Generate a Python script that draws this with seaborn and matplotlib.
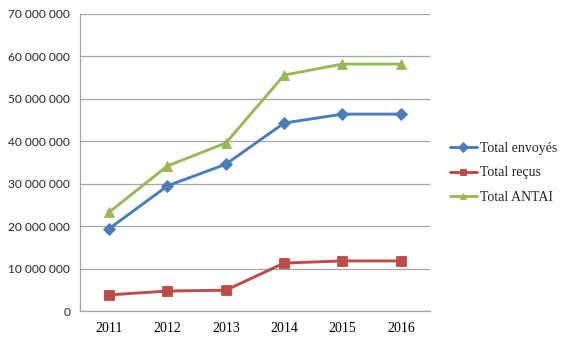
import matplotlib
matplotlib.use("Agg")
import matplotlib.pyplot as plt
import seaborn as sns
import pandas as pd
from matplotlib.ticker import FuncFormatter

years = ["2011", "2012", "2013", "2014", "2015", "2016"]
envoyes = [19.4e6, 29.5e6, 34.6e6, 44.3e6, 46.4e6, 46.4e6]
recus = [3.8e6, 4.7e6, 4.9e6, 11.3e6, 11.8e6, 11.8e6]
antai = [23.3e6, 34.2e6, 39.6e6, 55.6e6, 58.2e6, 58.2e6]
series_names = ["Total envoyés", "Total reçus", "Total ANTAI"]

rows = []
for name, vals in zip(series_names, [envoyes, recus, antai]):
    for i, (y, v) in enumerate(zip(years, vals)):
        rows.append({"pos": i, "year": y, "value": v, "series": name})
df = pd.DataFrame(rows)

sns.set_theme(style="white")
plt.rcParams['font.family'] = ['Liberation Serif', 'DejaVu Serif']

fig = plt.figure(figsize=(5.76, 3.46), dpi=100)
ax = fig.add_axes([80/576, 35/346, 350/576, 297/346])

palette = {"Total envoyés": "#4A7EBB", "Total reçus": "#BE4B48", "Total ANTAI": "#98B954"}
markers = {"Total envoyés": "D", "Total reçus": "s", "Total ANTAI": "^"}
sns.lineplot(data=df, x="pos", y="value", hue="series", style="series",
             palette=palette, markers=markers, dashes=False, ax=ax,
             linewidth=2.1, markersize=6.5, markeredgewidth=0.6)
for ln in ax.lines:
    ln.set_markeredgecolor(ln.get_color())

ax.set_xlim(-0.5, 5.5)
ax.set_ylim(0, 70e6)
ax.set_yticks([i * 10e6 for i in range(8)])
ax.yaxis.set_major_formatter(FuncFormatter(lambda v, p: f"{int(v):,}".replace(",", " ")))
ax.set_xticks(range(len(years)))
ax.set_xticklabels(years)
ax.set_xticks([i - 0.5 for i in range(len(years) + 1)], minor=True)
ax.set_xlabel("")
ax.set_ylabel("")
ax.grid(axis="y", color="#A6A6A6", linewidth=0.9)
ax.set_axisbelow(True)
for s in ["top", "right"]:
    ax.spines[s].set_visible(False)
for s in ["left", "bottom"]:
    ax.spines[s].set_color("#A6A6A6")
    ax.spines[s].set_linewidth(0.9)
ax.tick_params(axis="x", which="major", length=0, labelsize=10, pad=8, colors="black")
ax.tick_params(axis="x", which="minor", length=4, width=0.9, color="#A6A6A6", direction="out")
ax.tick_params(axis="y", length=4, width=0.9, color="#A6A6A6", labelsize=8.6, pad=3, direction="out")
for lab in ax.get_yticklabels():
    lab.set_family(["Lato", "DejaVu Sans"])

leg = ax.legend(loc="center left", bbox_to_anchor=(1.04, 0.465), frameon=False,
                fontsize=10, labelspacing=0.8, handlelength=2.0, handletextpad=0.2,
                borderaxespad=0, markerscale=0.75)

fig.savefig("out.png", dpi=100)
